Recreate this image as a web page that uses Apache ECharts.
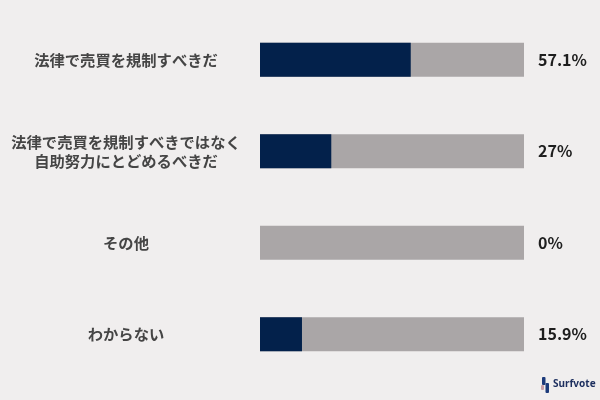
<!DOCTYPE html>
<html>
<head>
<meta charset="utf-8">
<script src="https://cdn.jsdelivr.net/npm/echarts@6/dist/echarts.min.js"></script>
<style>
html,body{margin:0;padding:0;background:#f0eeee;}
#c{width:600px;height:400px;}
</style>
</head>
<body>
<div id="c"></div>
<script>
var categories = ['法律で売買を規制すべきだ', '法律で売買を規制すべきではなく\n自助努力にとどめるべきだ', 'その他', 'わからない'];
var values = [57.1, 27, 0, 15.9];
var valueLabels = ['57.1%', '27%', '0%', '15.9%'];
var totals = [100, 100, 100, 100];

var chart = echarts.init(document.getElementById('c'));
chart.setOption({
  backgroundColor: '#f0eeee',
  animation: false,
  grid: {left: 260, right: 76, top: 14, bottom: 20},
  xAxis: {type: 'value', min: 0, max: 100, show: false},
  yAxis: {
    type: 'category', inverse: true, data: categories,
    axisLine: {show: false}, axisTick: {show: false},
    axisLabel: {
      align: 'center', margin: 134,
      fontFamily: 'Noto Sans CJK JP', fontWeight: 'bold', fontSize: 15.3,
      color: '#454545', lineHeight: 19
    }
  },
  series: [
    {
      type: 'bar', data: totals, barWidth: 34, barGap: '-100%',
      itemStyle: {color: '#aaa6a7'},
      label: {
        show: true, position: 'right', distance: 14,
        formatter: function (p) { return valueLabels[p.dataIndex]; },
        fontFamily: 'Noto Sans CJK JP', fontWeight: 'bold', fontSize: 16, color: '#1e1e1e'
      },
      silent: true
    },
    {
      type: 'bar', data: values, barWidth: 34, barGap: '-100%',
      itemStyle: {color: '#03214b'}
    }
  ],
  graphic: [
    {type: 'rect', left: 542, top: 377, shape: {width: 3.5, height: 8, r: 1}, style: {fill: '#1c3a7a'}},
    {type: 'rect', left: 545.5, top: 383, shape: {width: 3.5, height: 10, r: 1}, style: {fill: '#1c3a7a'}},
    {type: 'rect', left: 541, top: 385, shape: {width: 3, height: 5, r: 1}, style: {fill: '#c9a0a8'}},
    {type: 'text', left: 553, top: 379, style: {text: 'Surfvote', fontFamily: 'Noto Sans', fontWeight: 'bold', fontSize: 10, fill: '#1c2e5e'}}
  ]
});
</script>
</body>
</html>
